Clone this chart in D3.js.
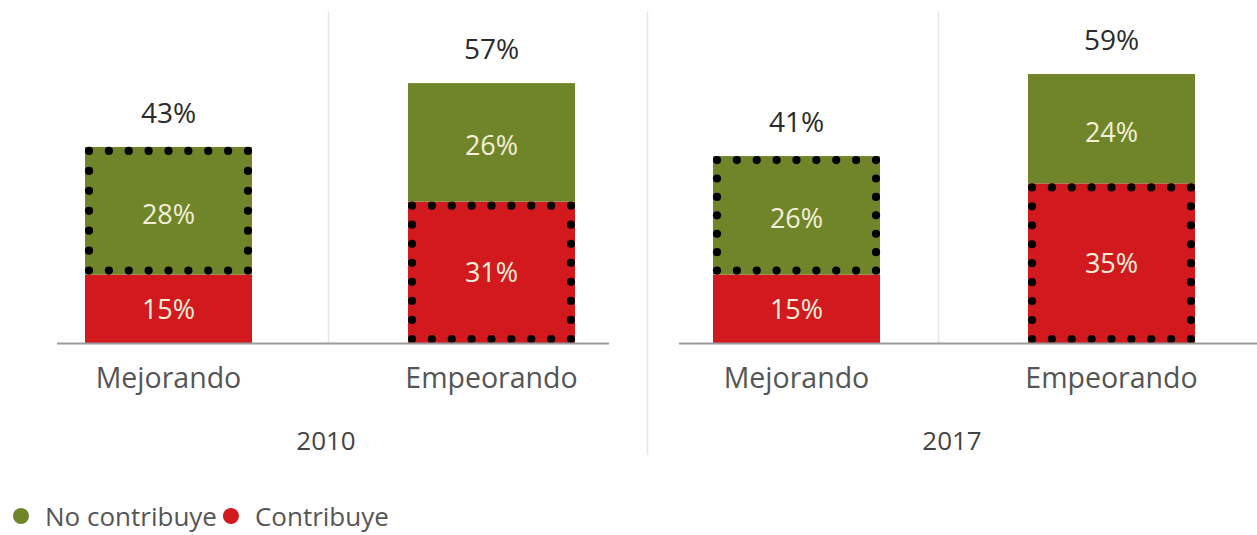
<!DOCTYPE html>
<html><head><meta charset="utf-8">
<script src="https://cdn.jsdelivr.net/npm/d3@7"></script>
<style>
html,body{margin:0;padding:0;background:#fff;}
svg{display:block;font-family:"Open Sans","Noto Sans",sans-serif;}
</style></head>
<body>
<svg id="chart" width="1257" height="535"></svg>
<script>
// ---- data ----
const years = ["2010", "2017"];
const categories = ["Mejorando", "Empeorando"];
const series = ["No contribuye", "Contribuye"];
// Contribuye (bottom, red) and No contribuye (top, green) per category
const contribuye2010 = [15, 31];
const noContribuye2010 = [28, 26];
const contribuye2017 = [15, 35];
const noContribuye2017 = [26, 24];
const totals2010 = [43, 57];
const totals2017 = [41, 59];
// which segment is highlighted with a dotted border, per category
const highlighted = ["No contribuye", "Contribuye"];

const colors = {"No contribuye": "#708529", "Contribuye": "#d2191e"};

const svg = d3.select("#chart");
const baseY = 343;
const y = d3.scaleLinear().domain([0, 59]).range([baseY, 74]);

const panels = [
  {year: years[0], contrib: contribuye2010, noContrib: noContribuye2010, totals: totals2010,
   range: [7, 653], axis: [57, 609], divider: 328, label: 326},
  {year: years[1], contrib: contribuye2017, noContrib: noContribuye2017, totals: totals2017,
   range: [639, 1269], axis: [679, 1257], divider: 938, label: 952}
];
const barW = 167;

// panel separator
svg.append("line").attr("x1", 647.5).attr("x2", 647.5).attr("y1", 12).attr("y2", 455)
  .attr("stroke", "#e6e6e6").attr("stroke-width", 1.5);

function dots(g, x0, y0, x1, y1) {
  const ins = 4;
  x0 += ins; y0 += ins; x1 -= ins; y1 -= ins;
  const pts = [];
  const edges = [[x0, y0, x1, y0], [x1, y0, x1, y1], [x1, y1, x0, y1], [x0, y1, x0, y0]];
  edges.forEach(([ax, ay, bx, by]) => {
    const len = Math.hypot(bx - ax, by - ay);
    const n = Math.max(1, Math.round(len / 19.5));
    for (let i = 0; i < n; i++) {
      pts.push([ax + (bx - ax) * i / n, ay + (by - ay) * i / n]);
    }
  });
  g.selectAll(null).data(pts).enter().append("circle")
    .attr("cx", d => d[0]).attr("cy", d => d[1]).attr("r", 4.1).attr("fill", "#000");
}

panels.forEach(p => {
  const x = d3.scalePoint().domain(categories).range(p.range).padding(0.5);
  const g = svg.append("g");
  // inner divider
  g.append("line").attr("x1", p.divider + 0.5).attr("x2", p.divider + 0.5)
    .attr("y1", 12).attr("y2", baseY).attr("stroke", "#e6e6e6").attr("stroke-width", 1.5);

  categories.forEach((c, i) => {
    const cx = x(c);
    const x0 = cx - barW / 2;
    const r0 = y(0), r1 = y(p.contrib[i]);
    const g1 = y(p.contrib[i] + p.noContrib[i]);
    g.append("rect").attr("x", x0).attr("y", r1).attr("width", barW).attr("height", r0 - r1)
      .attr("fill", colors["Contribuye"]);
    g.append("rect").attr("x", x0).attr("y", g1).attr("width", barW).attr("height", r1 - g1)
      .attr("fill", colors["No contribuye"]);
    // segment labels
    g.append("text").attr("x", cx).attr("y", (r0 + r1) / 2 + 10).attr("text-anchor", "middle")
      .attr("font-size", 27).attr("fill", "#f3efd8").text(p.contrib[i] + "%");
    g.append("text").attr("x", cx).attr("y", (r1 + g1) / 2 + 13).attr("text-anchor", "middle")
      .attr("font-size", 27).attr("fill", "#f3efd8").text(p.noContrib[i] + "%");
    // total
    g.append("text").attr("x", cx).attr("y", g1 - 24).attr("text-anchor", "middle")
      .attr("font-size", 28).attr("fill", "#2b2b2b").text(p.totals[i] + "%");
    // dotted highlight
    if (highlighted[i] === "No contribuye") dots(g, x0, g1, x0 + barW, r1);
    else dots(g, x0, r1, x0 + barW, r0);
    // category label
    g.append("text").attr("x", cx).attr("y", 388).attr("text-anchor", "middle")
      .attr("font-size", 28.5).attr("fill", "#555").text(c);
  });
  // axis line
  g.append("line").attr("x1", p.axis[0]).attr("x2", p.axis[1]).attr("y1", baseY + 0.5).attr("y2", baseY + 0.5)
    .attr("stroke", "#9a9a9a").attr("stroke-width", 2);
  // year label
  g.append("text").attr("x", p.label).attr("y", 450).attr("text-anchor", "middle")
    .attr("font-size", 26).attr("fill", "#444").text(p.year);
});

// legend
const leg = svg.append("g");
let lx = 21;
series.forEach(s => {
  leg.append("circle").attr("cx", lx).attr("cy", 516).attr("r", 8).attr("fill", colors[s]);
  const t = leg.append("text").attr("x", lx + 24).attr("y", 526).attr("font-size", 26)
    .attr("fill", "#555").text(s);
  lx += 24 + t.node().getComputedTextLength() + 14;
});
</script>
</body></html>
